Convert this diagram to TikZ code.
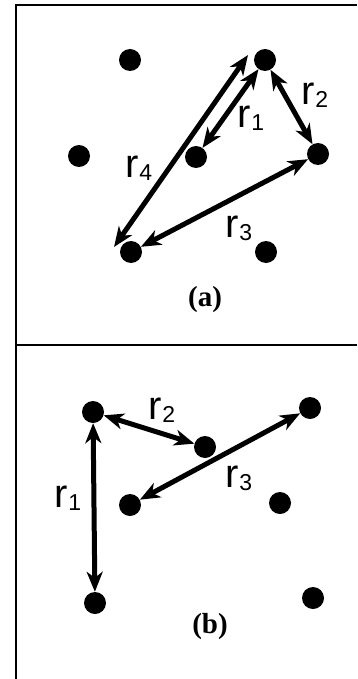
\documentclass[tikz,border=0pt]{standalone}
\usepackage{fontspec}
\setmainfont{Liberation Serif}
\setsansfont{Liberation Sans}
\usetikzlibrary{arrows.meta}
\tikzset{
  dot/.style={circle,fill=black,inner sep=0pt,minimum size=22pt},
  rarrow/.style={line width=5pt,{Stealth[length=20pt,width=16pt,inset=6pt]}-{Stealth[length=20pt,width=16pt,inset=6pt]}},
  rlabel/.style={inner sep=0pt,font=\sffamily},
  caption/.style={inner sep=0pt,font=\fontsize{29}{29}\selectfont\bfseries}
}
\newcommand{\rlab}[1]{{\fontsize{40}{40}\selectfont r}\raisebox{-3pt}{\fontsize{23}{23}\selectfont #1}}
\begin{document}
\begin{tikzpicture}[x=1pt,y=-1pt]
  \useasboundingbox (0,0) rectangle (357,679);
  % frame
  \draw[line width=2.5pt] (357,5) -- (16,5) -- (16,679);
  \draw[line width=2.5pt] (16,345) -- (357,345);
  % (a)
  \node[dot] (a1) at (130,60) {};
  \node[dot] (a2) at (265,60) {};
  \node[dot] (a3) at (79,156) {};
  \node[dot] (a4) at (196,157) {};
  \node[dot] (a5) at (318,154) {};
  \node[dot] (a6) at (131,252) {};
  \node[dot] (a7) at (266,252) {};
  \draw[rarrow] (a4) -- (a2);
  \draw[rarrow] (a2) -- (a5);
  \draw[rarrow] (a5) -- (a6);
  \draw[rarrow] ([shift={(-17pt,5pt)}]a6.center) -- ([shift={(-17pt,5pt)}]a2.center);
  \node[rlabel] (ra1) at (251,118) {\rlab{1}};
  \node[rlabel] (ra2) at (315,95) {\rlab{2}};
  \node[rlabel] (ra3) at (239,228) {\rlab{3}};
  \node[rlabel] (ra4) at (139,168) {\rlab{4}};
  \node[caption] (capa) at (205,300) {(a)};
  % (b)
  \node[dot] (b1) at (93,412) {};
  \node[dot] (b2) at (310,408) {};
  \node[dot] (b3) at (205,447) {};
  \node[dot] (b4) at (130,505) {};
  \node[dot] (b5) at (280,503) {};
  \node[dot] (b6) at (95,603) {};
  \node[dot] (b7) at (313,598) {};
  \draw[rarrow] (b1) -- (b6);
  \draw[rarrow] (b1) -- (b3);
  \draw[rarrow] (b2) -- (b4);
  \node[rlabel] (rb1) at (68,498) {\rlab{1}};
  \node[rlabel] (rb2) at (162,410) {\rlab{2}};
  \node[rlabel] (rb3) at (239,478) {\rlab{3}};
  \node[caption] (capb) at (210,627) {(b)};
\end{tikzpicture}
\end{document}
